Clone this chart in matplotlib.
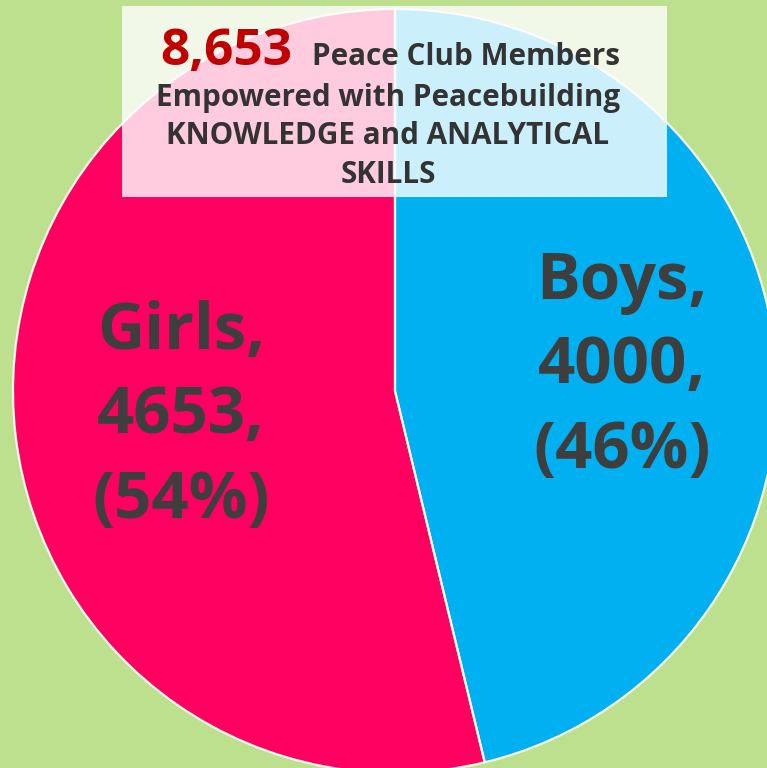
import matplotlib
matplotlib.use("Agg")
import matplotlib.pyplot as plt
from matplotlib.patches import Rectangle, Circle

categories = ["Boys", "Girls"]
values = [4000, 4653]
percents = ["46%", "54%"]
colors = ["#00b0f0", "#ff0060"]
total_label = "8,653"
title_rest = "Peace Club Members"
title_lines = ["Empowered with Peacebuilding", "KNOWLEDGE and ANALYTICAL", "SKILLS"]

BG = "#bde08f"
TXT = "#3e3e3e"
FONT = "Open Sans"

fig = plt.figure(figsize=(7.67, 7.68), dpi=100)
fig.patch.set_facecolor(BG)
ax = fig.add_axes([0, 0, 1, 1])
ax.set_facecolor(BG)

W, H = 767, 768
cx, cy, r = 395, H - 391, 382
ax.pie(values, colors=colors, startangle=90, counterclock=False,
       center=(cx, cy), radius=r, wedgeprops=dict(linewidth=0))
# separating lines between slices (outer arc clipped away)
edges, _ = ax.pie(values, colors=["none"] * len(values), startangle=90,
                  counterclock=False, center=(cx, cy), radius=r,
                  wedgeprops=dict(edgecolor="#f4f8ea", linewidth=1.6,
                                  facecolor="none"))
clip = Circle((cx, cy), r - 3, transform=ax.transData)
for e in edges:
    e.set_clip_path(clip)
ax.set_xlim(0, W)
ax.set_ylim(0, H)
ax.set_aspect("auto")
ax.axis("off")

# slice labels (last-line baseline positions)
label_pos = {"Boys": (622, H - 468), "Girls": (181, H - 518)}
for cat, v, p in zip(categories, values, percents):
    x, y = label_pos[cat]
    ax.text(x, y, f"{cat},\n{v},\n({p})", ha="center", va="baseline",
            fontsize=47, fontweight="bold", color=TXT, family=FONT,
            linespacing=1.40)

# title box
ax.add_patch(Rectangle((122, H - 197), 545, 191, facecolor="white", alpha=0.8,
                       edgecolor="none", zorder=5))
ax.text(160, H - 65, total_label, ha="left", va="baseline", fontsize=37,
        fontweight="bold", color="#c00000", family=FONT, zorder=6)
ax.text(312, H - 65, title_rest, ha="left", va="baseline", fontsize=21.3,
        fontweight="bold", color="#333333", family=FONT, zorder=6)
for i, line in enumerate(title_lines):
    ax.text(388, H - (106 + 38.5 * i), line, ha="center", va="baseline",
            fontsize=21.3, fontweight="bold", color="#333333", family=FONT,
            zorder=6)

fig.savefig("out.png", dpi=100, facecolor=BG)
